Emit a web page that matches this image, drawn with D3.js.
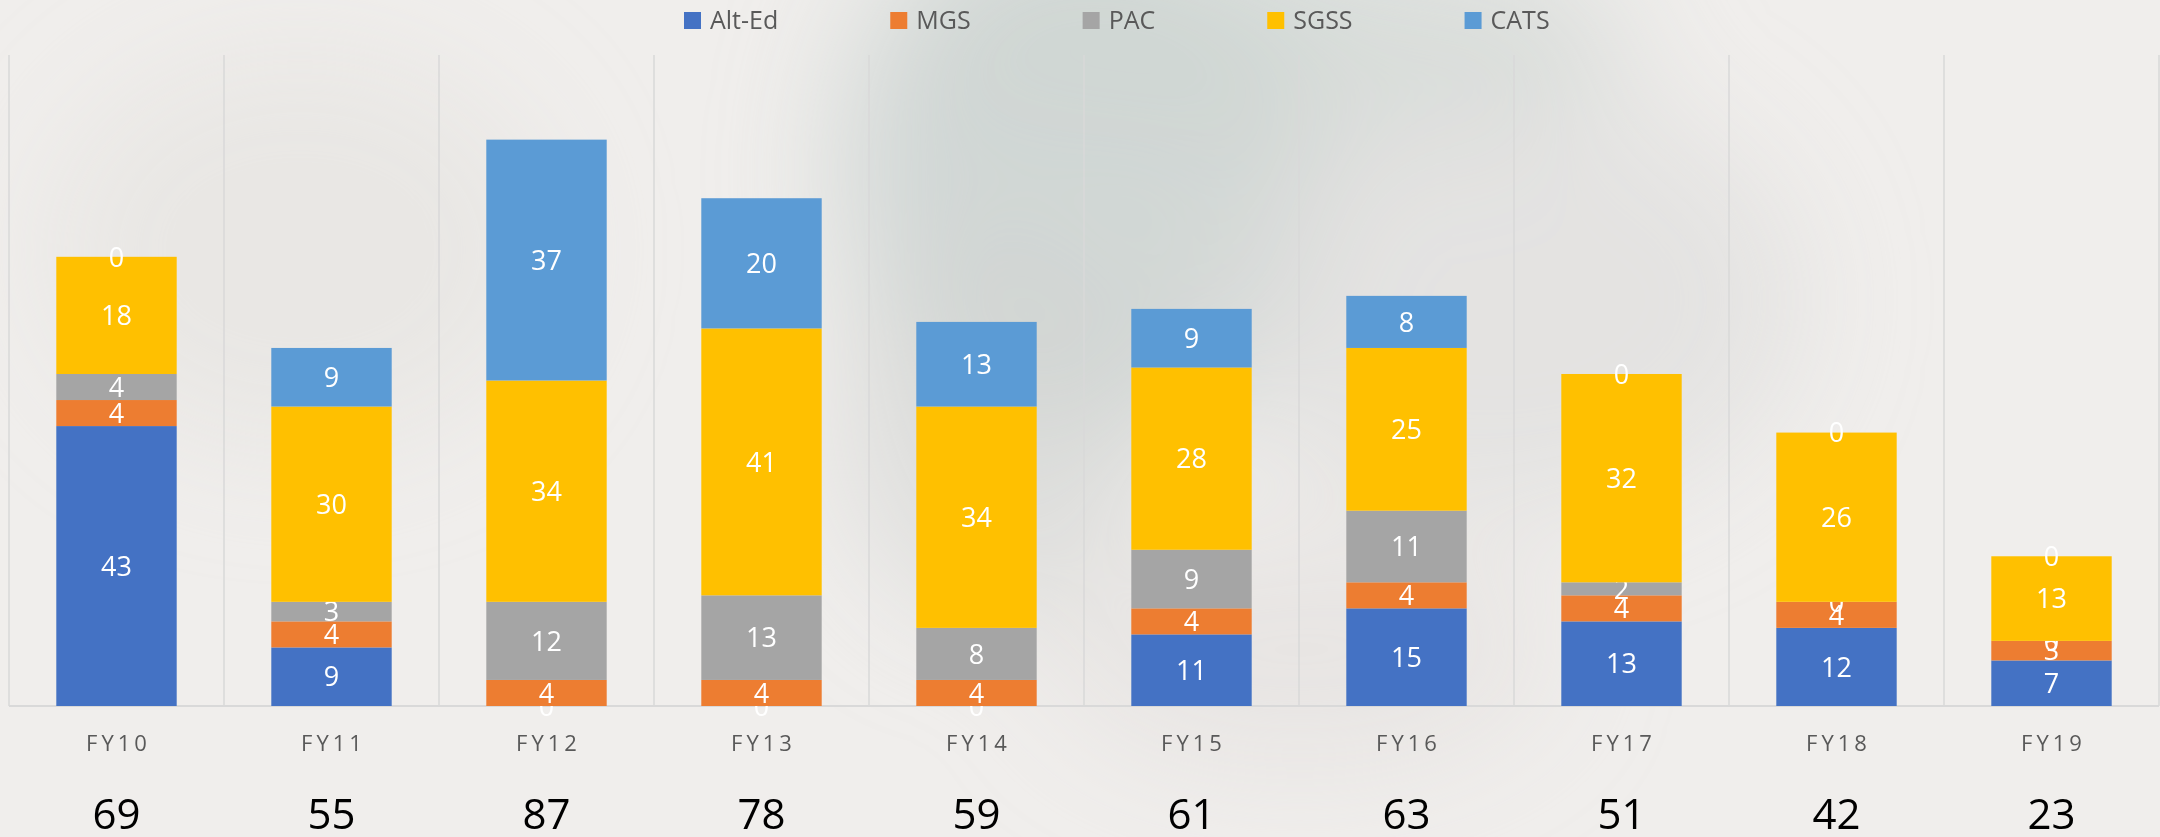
<!DOCTYPE html>
<html>
<head>
<meta charset="utf-8">
<script src="https://cdn.jsdelivr.net/npm/d3@7"></script>
<style>
  html, body { margin: 0; padding: 0; background: #f0eeec; }
  svg { display: block; font-family: "Open Sans", sans-serif; }
</style>
</head>
<body>
<div id="main-canvas"></div>
<script>
// Stacked bars per fiscal year, totals underneath

const width = 2160;
const height = 837;

// Data
const years = ["FY10", "FY11", "FY12", "FY13", "FY14", "FY15", "FY16", "FY17", "FY18", "FY19"];
const programs = ["Alt-Ed", "MGS", "PAC", "SGSS", "CATS"];
const altEd = [43, 9, 0, 0, 0, 11, 15, 13, 12, 7];
const mgs   = [4, 4, 4, 4, 4, 4, 4, 4, 4, 3];
const pac   = [4, 3, 12, 13, 8, 9, 11, 2, 0, 0];
const sgss  = [18, 30, 34, 41, 34, 28, 25, 32, 26, 13];
const cats  = [0, 9, 37, 20, 13, 9, 8, 0, 0, 0];
const colors = ["#4472c4", "#ed7d31", "#a5a5a5", "#ffc000", "#5b9bd5"];

const seriesValues = [altEd, mgs, pac, sgss, cats];

// build rows for d3.stack
let rows = years.map((y, i) => {
    let r = { year: y };
    programs.forEach((p, j) => r[p] = seriesValues[j][i]);
    return r;
});

let svg = d3.select("#main-canvas").append("svg")
    .attr("width", width)
    .attr("height", height);

// soft watercolor background
let defs = svg.append("defs");
let blur = defs.append("filter").attr("id", "soft")
    .attr("x", "-50%").attr("y", "-50%").attr("width", "200%").attr("height", "200%");
blur.append("feGaussianBlur").attr("stdDeviation", 60);

let bg = svg.append("g").attr("filter", "url(#soft)");
bg.append("ellipse").attr("cx", 1080).attr("cy", 170).attr("rx", 240).attr("ry", 270)
    .attr("fill", "#c9d1cf").attr("opacity", 0.8);
bg.append("ellipse").attr("cx", 1250).attr("cy", 40).attr("rx", 380).attr("ry", 110)
    .attr("fill", "#cfd5d3").attr("opacity", 0.7);
bg.append("ellipse").attr("cx", 1000).attr("cy", 420).attr("rx", 160).attr("ry", 200)
    .attr("fill", "#d3d6d4").attr("opacity", 0.6);
bg.append("ellipse").attr("cx", 1500).attr("cy", 300).attr("rx", 300).attr("ry", 220)
    .attr("fill", "#dcdcdb").attr("opacity", 0.6);
bg.append("ellipse").attr("cx", 1300).attr("cy", 650).attr("rx", 250).attr("ry", 120)
    .attr("fill", "#e2e0de").attr("opacity", 0.6);
bg.append("ellipse").attr("cx", 300).attr("cy", 250).attr("rx", 250).attr("ry", 200)
    .attr("fill", "#e4e2e0").attr("opacity", 0.6);

// Scales
let x = d3.scaleBand()
    .domain(years)
    .range([9, 2159])
    .paddingInner(0.44)
    .paddingOuter(0.22);

let y = d3.scaleLinear()
    .domain([0, 100])
    .range([706, 55]);

// category separators
let step = x.step();
let sepX = d3.range(years.length + 1).map(i => 9 + i * step);
svg.append("g").selectAll("line")
    .data(sepX)
    .enter().append("line")
    .attr("x1", d => d).attr("x2", d => d)
    .attr("y1", y(100)).attr("y2", y(0))
    .attr("stroke", "#d9d9d9")
    .attr("stroke-width", 1.5);

// baseline
svg.append("line")
    .attr("x1", 9).attr("x2", 2159)
    .attr("y1", y(0)).attr("y2", y(0))
    .attr("stroke", "#d9d9d9")
    .attr("stroke-width", 2);

// Stacked bars
let stack = d3.stack().keys(programs);
let layers = stack(rows);

let layer_g = svg.append("g").selectAll("g")
    .data(layers)
    .enter().append("g")
    .attr("fill", (d, i) => colors[i]);

layer_g.selectAll("rect")
    .data(d => d)
    .enter().append("rect")
    .attr("x", d => x(d.data.year))
    .attr("y", d => y(d[1]))
    .attr("width", x.bandwidth())
    .attr("height", d => y(d[0]) - y(d[1]));

// value labels in each segment
let labelFont = 27;
layer_g.selectAll("text")
    .data(d => d.map(v => ({ v: v, key: d.key })))
    .enter().append("text")
    .attr("x", d => x(d.v.data.year) + x.bandwidth() / 2)
    .attr("y", d => (y(d.v[0]) + y(d.v[1])) / 2 + labelFont * 0.36)
    .attr("text-anchor", "middle")
    .attr("font-size", labelFont + "px")
    .attr("fill", "#ffffff")
    .text(d => d.v.data[d.key]);

// category labels
svg.append("g").selectAll("text")
    .data(years)
    .enter().append("text")
    .attr("x", d => x(d) + x.bandwidth() / 2 + 2)
    .attr("y", 751)
    .attr("text-anchor", "middle")
    .attr("font-size", "22px")
    .attr("letter-spacing", "4px")
    .attr("fill", "#595959")
    .text(d => d);

// totals under each year
svg.append("g").selectAll("text")
    .data(rows)
    .enter().append("text")
    .attr("x", d => x(d.year) + x.bandwidth() / 2)
    .attr("y", 829)
    .attr("text-anchor", "middle")
    .attr("font-size", "42px")
    .attr("fill", "#000000")
    .text(d => d3.sum(programs, p => d[p]));

// Legend
let legend = svg.append("g").attr("class", "legend");
let lx = 684;
programs.forEach((p, i) => {
    let item = legend.append("g").attr("transform", `translate(${lx},0)`);
    item.append("rect")
        .attr("x", 0).attr("y", 12)
        .attr("width", 17).attr("height", 17)
        .attr("fill", colors[i]);
    let t = item.append("text")
        .attr("x", 26).attr("y", 29)
        .attr("font-size", "25px")
        .attr("fill", "#595959")
        .text(p);
    lx += 26 + t.node().getComputedTextLength() + 112;
});
</script>
</body>
</html>
